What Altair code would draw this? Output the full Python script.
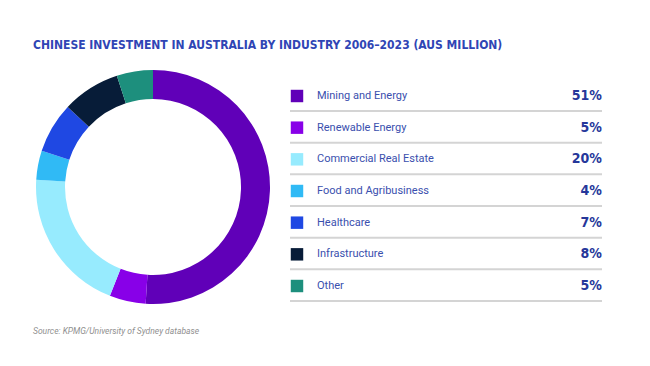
import altair as alt
import pandas as pd

categories = ["Mining and Energy", "Renewable Energy", "Commercial Real Estate",
              "Food and Agribusiness", "Healthcare", "Infrastructure", "Other"]
shares = [51, 5, 20, 4, 7, 8, 5]
colors = ["#6000b8", "#8800e8", "#97ebfe", "#30baf5", "#1f48e3", "#071c38", "#1d8f7d"]
title_text = "CHINESE INVESTMENT IN AUSTRALIA BY INDUSTRY 2006–2023 (AUS MILLION)"
source_text = "Source: KPMG/University of Sydney database"

df = pd.DataFrame({
    "category": categories,
    "share": shares,
    "order": list(range(len(categories))),
    "label": [f"{v}%" for v in shares],
})

color_scale = alt.Scale(domain=categories, range=colors)
row_scale = alt.Scale(type="point", domain=categories, range=[88, 278], padding=0)
cond = "DejaVu Sans Condensed, sans-serif"

donut = alt.Chart(df).mark_arc(outerRadius=117, innerRadius=88, stroke=None).encode(
    theta=alt.Theta("share:Q", stack=True),
    order=alt.Order("order:Q"),
    color=alt.Color("category:N", scale=color_scale, legend=None),
    x=alt.value(145),
    y=alt.value(179),
)

squares = alt.Chart(df).mark_square(size=155, opacity=1, filled=True).encode(
    x=alt.value(289),
    y=alt.Y("category:N", scale=row_scale, axis=None),
    color=alt.Color("category:N", scale=color_scale, legend=None),
)

labels = alt.Chart(df).mark_text(align="left", baseline="middle", font="Roboto",
                                 fontSize=11, color="#3a4fae").encode(
    x=alt.value(309),
    y=alt.Y("category:N", scale=row_scale, axis=None),
    text="category:N",
)

pcts = alt.Chart(df).mark_text(align="right", baseline="middle", font=cond,
                               fontWeight="bold", fontSize=14, color="#26379a").encode(
    x=alt.value(594),
    y=alt.Y("category:N", scale=row_scale, axis=None),
    text="label:N",
)

seps = alt.Chart(df).mark_rule(yOffset=15, color="#d4d4d4", strokeWidth=2).encode(
    x=alt.value(282),
    x2=alt.value(594),
    y=alt.Y("category:N", scale=row_scale, axis=None),
)

title_df = pd.DataFrame({"t": [title_text]})
title = alt.Chart(title_df).mark_text(align="left", baseline="middle", font=cond,
                                      fontWeight="bold", fontSize=12, color="#2f45b5").encode(
    x=alt.value(25), y=alt.value(37), text="t:N")

src_df = pd.DataFrame({"t": [source_text]})
source = alt.Chart(src_df).mark_text(align="left", baseline="middle", font="Roboto",
                                     fontStyle="italic", fontSize=8.5, color="#8f8f8f").encode(
    x=alt.value(25), y=alt.value(323), text="t:N")

chart = alt.layer(seps, donut, squares, labels, pcts, title, source).properties(
    width=626, height=342, padding=0, background="white",
    autosize=alt.AutoSizeParams(type="none"),
).configure_view(stroke=None)

chart.save("out.html", embed_options={"renderer": "svg", "actions": False})
